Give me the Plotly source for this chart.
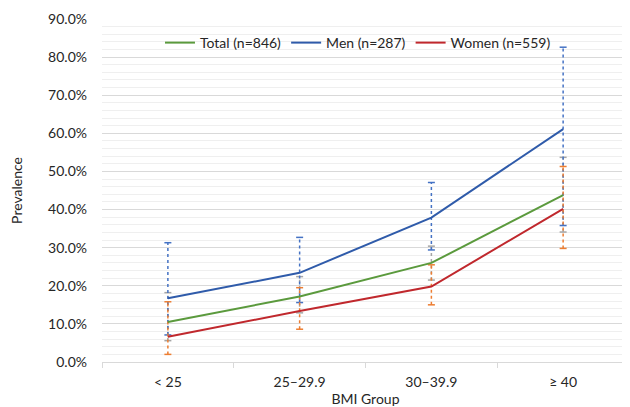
import plotly.graph_objects as go

categories = ["< 25", "25–29.9", "30–39.9", "≥ 40"]

total = [0.105, 0.172, 0.260, 0.438]
total_lo = [0.056, 0.129, 0.215, 0.341]
total_hi = [0.182, 0.224, 0.304, 0.537]

men = [0.167, 0.234, 0.379, 0.611]
men_lo = [0.071, 0.156, 0.294, 0.358]
men_hi = [0.313, 0.327, 0.471, 0.826]

women = [0.066, 0.134, 0.198, 0.402]
women_lo = [0.020, 0.086, 0.150, 0.298]
women_hi = [0.158, 0.195, 0.255, 0.513]

series_names = ["Total (n=846)", "Men (n=287)", "Women (n=559)"]
line_colors = ["#5B9A3D", "#2F5BAA", "#C0282D"]
err_colors = ["#A5A5A5", "#4472C4", "#ED7D31"]

FONT = "Lato, 'Open Sans', sans-serif"

fig = go.Figure()

def add_err(lo, hi, color):
    xs, ys = [], []
    for c, l, h in zip(categories, lo, hi):
        xs += [c, c, None]
        ys += [l, h, None]
    fig.add_trace(go.Scatter(x=xs, y=ys, mode="lines",
                             line=dict(color=color, width=1.5, dash="dot"),
                             showlegend=False, hoverinfo="skip"))
    fig.add_trace(go.Scatter(x=categories + categories, y=list(lo) + list(hi), mode="markers",
                             marker=dict(symbol="line-ew", size=5,
                                         line=dict(color=color, width=1.5)),
                             showlegend=False, hoverinfo="skip"))

for lo, hi, col in zip([total_lo, men_lo, women_lo], [total_hi, men_hi, women_hi], err_colors):
    add_err(lo, hi, col)

for name, vals, col in zip(series_names, [total, men, women], line_colors):
    fig.add_trace(go.Scatter(x=categories, y=vals, mode="lines", name=name,
                             line=dict(color=col, width=2)))

fig.update_layout(
    width=622, height=399,
    margin=dict(l=94, r=1, t=11, b=45, autoexpand=False),
    paper_bgcolor="white", plot_bgcolor="white",
    font=dict(family=FONT, size=14, color="#404040"),
    legend=dict(orientation="h", x=0.11, xanchor="left", y=0.93, yanchor="middle",
                font=dict(size=14, color="#262626"), bgcolor="rgba(255,255,255,0)",
                itemwidth=30, tracegroupgap=0),
)
fig.update_yaxes(
    range=[0, 0.9], dtick=0.1, tickformat=".1%", automargin=False,
    showgrid=True, gridcolor="#D9D9D9", gridwidth=1,
    minor=dict(dtick=0.02, showgrid=True, gridcolor="#EFEFEF", gridwidth=1),
    zeroline=False, showline=False, ticks="", ticklabelstandoff=14,
    tickfont=dict(size=14, color="#262626"),
    title=dict(text="Prevalence", font=dict(size=14, color="#262626"), standoff=22),
)
fig.update_xaxes(
    type="category", categoryorder="array", categoryarray=categories,
    range=[-0.5, 3.5], automargin=False,
    showline=True, linecolor="#D9D9D9", linewidth=1,
    ticks="outside", tickson="boundaries", ticklen=5, tickcolor="#D9D9D9",
    showgrid=False, ticklabelstandoff=7,
    tickfont=dict(size=14, color="#262626"),
    title=dict(text="BMI Group", font=dict(size=14, color="#262626"), standoff=12),
)

fig.write_html("out.html")
